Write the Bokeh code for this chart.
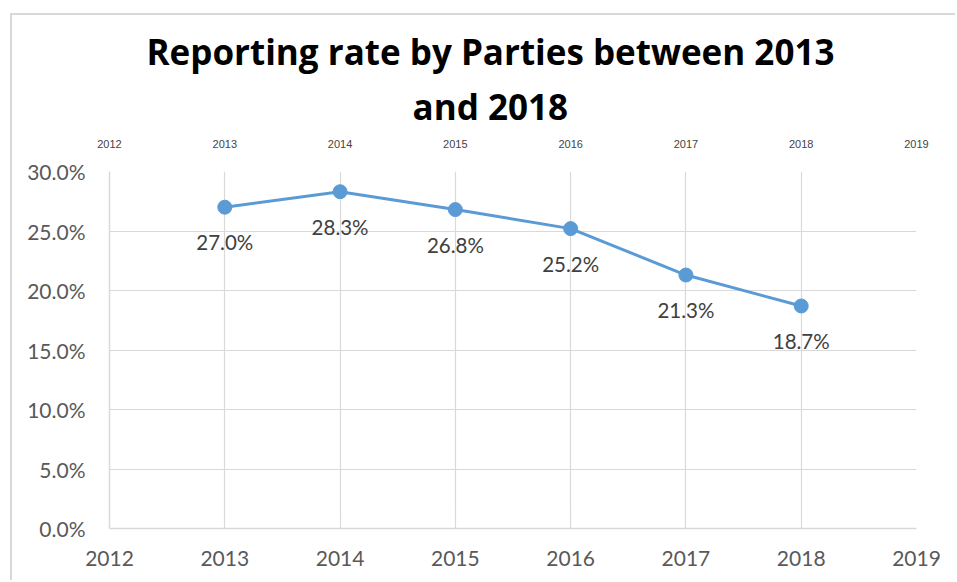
from bokeh.plotting import figure
from bokeh.models import Range1d, FixedTicker, ColumnDataSource, CustomJSTickFormatter, Title, LinearAxis
from bokeh.core.properties import value
from bokeh.embed import file_html
from bokeh.resources import INLINE

years = [2013, 2014, 2015, 2016, 2017, 2018]
rates = [27.0, 28.3, 26.8, 25.2, 21.3, 18.7]
labels = ["27.0%", "28.3%", "26.8%", "25.2%", "21.3%", "18.7%"]
x_ticks = [2012, 2013, 2014, 2015, 2016, 2017, 2018, 2019]
y_ticks = [0, 5, 10, 15, 20, 25, 30]
title_lines = ["Reporting rate by Parties between 2013", "and 2018"]

FONT = "Lato"
TFONT = "Open Sans"
BLUE = "#5B9BD5"

p = figure(width=945, height=567, output_backend="svg", toolbar_location=None,
           x_range=Range1d(2012, 2019), y_range=Range1d(0, 30),
           min_border_left=97, min_border_right=41, min_border_top=156, min_border_bottom=54,
           margin=(13, 0, 0, 10))
p.styles = {"border-top": "2px solid #D9D9D9", "border-left": "2px solid #D9D9D9"}
p.outline_line_color = None
p.background_fill_color = "white"
p.border_fill_color = "white"

# invisible spacer (empty axis) between the plot frame and the two title lines
spacer = LinearAxis(ticker=FixedTicker(ticks=[]), axis_line_color=None,
                    major_tick_line_color=None, minor_tick_line_color=None,
                    major_tick_out=24, minor_tick_out=0, major_tick_in=0, minor_tick_in=0,
                    major_label_standoff=0)
t2 = Title(text=title_lines[1], align="left", offset=303, text_font=TFONT,
           text_font_size="35px", text_font_style="bold", text_color="black", standoff=13)
t1 = Title(text=title_lines[0], align="left", offset=37, text_font=TFONT,
           text_font_size="35px", text_font_style="bold", text_color="black", standoff=0)
p.add_layout(spacer, "above")
p.add_layout(t2, "above")
p.add_layout(t1, "above")

p.xaxis.ticker = FixedTicker(ticks=x_ticks)
p.yaxis.ticker = FixedTicker(ticks=y_ticks)
p.yaxis.formatter = CustomJSTickFormatter(code="return tick.toFixed(1) + '%';")
p.below[0].formatter = CustomJSTickFormatter(code="return tick.toFixed(0);")
for ax in (p.below[0], p.yaxis[0]):
    ax.major_label_text_font = FONT
    ax.major_label_text_font_size = "21px"
    ax.major_label_text_color = "#595959"
    ax.major_tick_line_color = None
    ax.minor_tick_line_color = None
    ax.axis_line_color = "#D9D9D9"
    ax.axis_line_width = 1.5
p.below[0].ticker = FixedTicker(ticks=x_ticks)
p.below[0].major_label_standoff = 16
p.yaxis.major_label_standoff = 18

p.xgrid.ticker = FixedTicker(ticks=x_ticks)
p.ygrid.ticker = FixedTicker(ticks=y_ticks)
p.xgrid.grid_line_color = "#D9D9D9"
p.ygrid.grid_line_color = "#D9D9D9"
p.xgrid.grid_line_width = 1.2
p.ygrid.grid_line_width = 1.2

src = ColumnDataSource(dict(x=years, y=rates, t=labels))
p.line("x", "y", source=src, line_color=BLUE, line_width=3)
p.scatter("x", "y", source=src, size=14, fill_color=BLUE, line_color=BLUE)
p.text("x", "y", text="t", source=src, text_font=value(FONT), text_font_size="20.5px",
       text_color="#404040", text_align="center", text_baseline="middle", y_offset=35)

open("out.html", "w").write(file_html(p, INLINE))
